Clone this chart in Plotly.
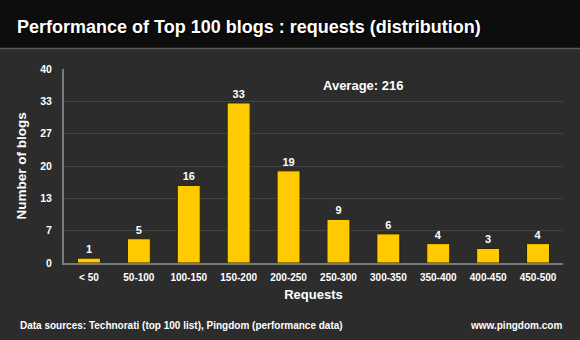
import plotly.graph_objects as go

categories = ["< 50", "50-100", "100-150", "150-200", "200-250", "250-300",
              "300-350", "350-400", "400-450", "450-500"]
blogs = [1, 5, 16, 33, 19, 9, 6, 4, 3, 4]
tick_vals = [0, 20/3, 40/3, 20, 80/3, 100/3, 40]
tick_text = ["0", "7", "13", "20", "27", "33", "40"]

FONT = "Liberation Sans, Arial, Helvetica, sans-serif"
W, H = 580, 340
L, R, T, B = 64, 17, 69, 77
pw, ph = W - L - R, H - T - B

def px_x(x):
    return (x - L) / pw

def px_y(y):
    return (H - B - y) / ph

fig = go.Figure()
fig.add_trace(go.Bar(
    x=categories, y=blogs,
    marker=dict(color="#FFCB00", line=dict(color="#2a2200", width=1)),
    text=[str(v) for v in blogs], textposition="outside",
    textfont=dict(family=FONT, size=11, color="white", weight="bold"),
    cliponaxis=False,
))

fig.update_layout(
    width=W, height=H,
    margin=dict(l=L, r=R, t=T, b=B),
    paper_bgcolor="#2c2c2c", plot_bgcolor="rgba(0,0,0,0)",
    bargap=0.54,
    showlegend=False,
    font=dict(family=FONT, color="white"),
    title=dict(
        text="Performance of Top 100 blogs : requests (distribution)",
        x=17 / W, xref="container", xanchor="left",
        y=1 - 27 / H, yref="container", yanchor="middle",
        font=dict(family=FONT, size=18, color="white", weight="bold",
                  shadow="1px 1px 2px black"),
    ),
    xaxis=dict(
        showline=True, linecolor="#7a7a7a", linewidth=2,
        showgrid=False, ticks="outside", ticklen=4, tickcolor="rgba(0,0,0,0)",
        tickfont=dict(family=FONT, size=10, color="white", weight="bold"),
        title=dict(text="Requests", standoff=8,
                   font=dict(family=FONT, size=13, color="white", weight="bold")),
    ),
    yaxis=dict(
        range=[0, 40], tickvals=tick_vals, ticktext=tick_text,
        showline=True, linecolor="#7a7a7a", linewidth=2,
        showgrid=True, gridcolor="#434343", gridwidth=1,
        zeroline=False,
        ticks="outside", ticklen=8, tickcolor="rgba(0,0,0,0)",
        tickfont=dict(family=FONT, size=10.5, color="white", weight="bold"),
        title=dict(text="Number of blogs", standoff=10,
                   font=dict(family=FONT, size=13.5, color="white", weight="bold")),
    ),
    shapes=[
        dict(type="rect", xref="paper", yref="paper",
             x0=px_x(0), x1=px_x(W), y0=px_y(48), y1=px_y(0),
             fillcolor="#0d0d0d", line=dict(width=0), layer="below"),
        dict(type="line", xref="paper", yref="paper",
             x0=px_x(0), x1=px_x(W), y0=px_y(48.5), y1=px_y(48.5),
             line=dict(color="#5a5a5a", width=1.5)),
    ],
    annotations=[
        dict(text="Average: 216", xref="paper", yref="paper",
             x=px_x(363), y=px_y(85), xanchor="center", yanchor="middle",
             showarrow=False,
             font=dict(family=FONT, size=13, color="white", weight="bold")),
        dict(text="Data sources: Technorati (top 100 list), Pingdom (performance data)",
             xref="paper", yref="paper", x=px_x(18), y=px_y(325),
             xanchor="left", yanchor="middle", showarrow=False,
             font=dict(family=FONT, size=10, color="white", weight="bold")),
        dict(text="www.pingdom.com", xref="paper", yref="paper",
             x=px_x(564), y=px_y(325), xanchor="right", yanchor="middle",
             showarrow=False,
             font=dict(family=FONT, size=10, color="white", weight="bold")),
    ],
)

fig.write_html("out.html")
